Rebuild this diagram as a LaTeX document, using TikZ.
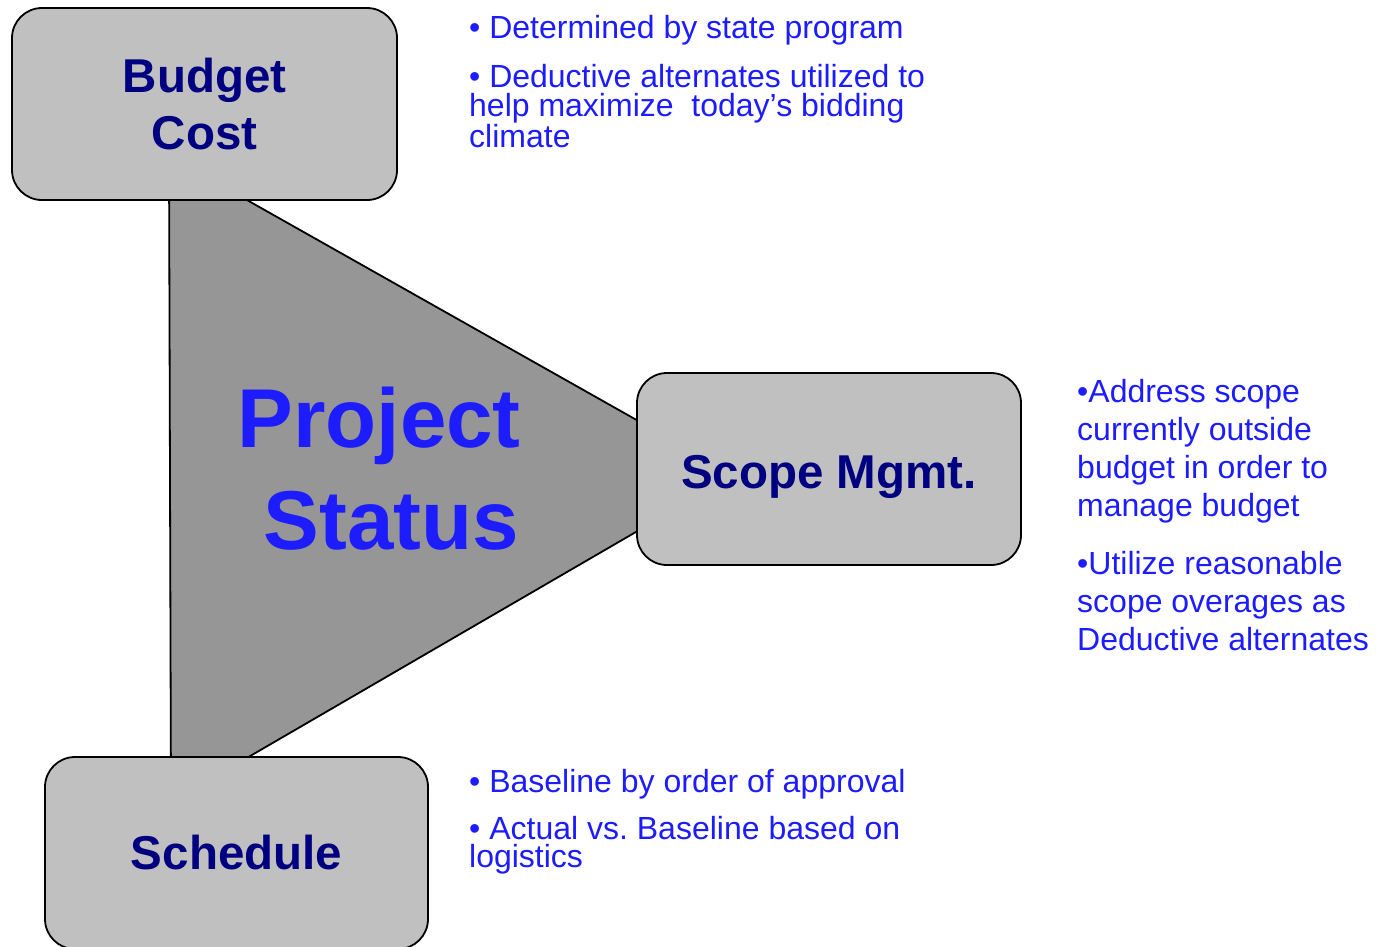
\documentclass[tikz,border=0pt]{standalone}
\usepackage{fontspec}
\setmainfont{Liberation Sans}
\definecolor{boxgray}{RGB}{192,192,192}
\definecolor{trigray}{RGB}{150,150,150}
\definecolor{navy}{RGB}{0,0,128}
\definecolor{txtblue}{RGB}{28,28,255}
\begin{document}
\begin{tikzpicture}[x=1pt,y=-1pt,
  box/.style={draw=black, line width=1.8pt, fill=boxgray, rounded corners=30pt,
    minimum width=385pt, minimum height=192pt, inner sep=0pt,
    font=\fontsize{47.5}{57}\selectfont\bfseries, text=navy, align=center},
  note/.style={anchor=north west, inner sep=0pt, text=txtblue,
    font=\fontsize{32}{29}\selectfont, align=left}]
\useasboundingbox (0,0) rectangle (1376,946);
\clip (0,0) rectangle (1376,946);
% central triangle
\draw[fill=trigray, line width=1.8pt, line join=miter] (169,156) -- (734,475) -- (171,802) -- cycle;
% boxes
\node[box] (budget) at (204.5,104) {Budget\\Cost};
\node[box, minimum width=384pt, text height=38pt, text depth=0pt] (scope) at (829,469) {Scope Mgmt.};
\node[box, minimum width=383pt] (schedule) at (236.5,853) {Schedule};
% central label
\node[anchor=north east, inner sep=0pt, text=txtblue, align=right,
  font=\fontsize{83.5}{102}\selectfont\bfseries] (status) at (521,387) {Project\\Status\kern2pt};
% notes
\node[note] (n1) at (469,15) {• Determined by state program};
\node[note] (n2) at (469,64) {• Deductive alternates utilized to\\help maximize\ \ today’s bidding\\climate};
\node[note, font=\fontsize{32}{38}\selectfont] (n3) at (1077,379) {•Address scope\\currently outside\\budget in order to\\manage budget};
\node[note, font=\fontsize{32}{38}\selectfont] (n4) at (1077,551) {•Utilize reasonable\\scope overages as\\Deductive alternates};
\node[note] (n5) at (469,769) {• Baseline by order of approval};
\node[note, font=\fontsize{32}{28}\selectfont] (n6) at (469,816) {• Actual vs.\ Baseline based on\\logistics};
\end{tikzpicture}
\end{document}
